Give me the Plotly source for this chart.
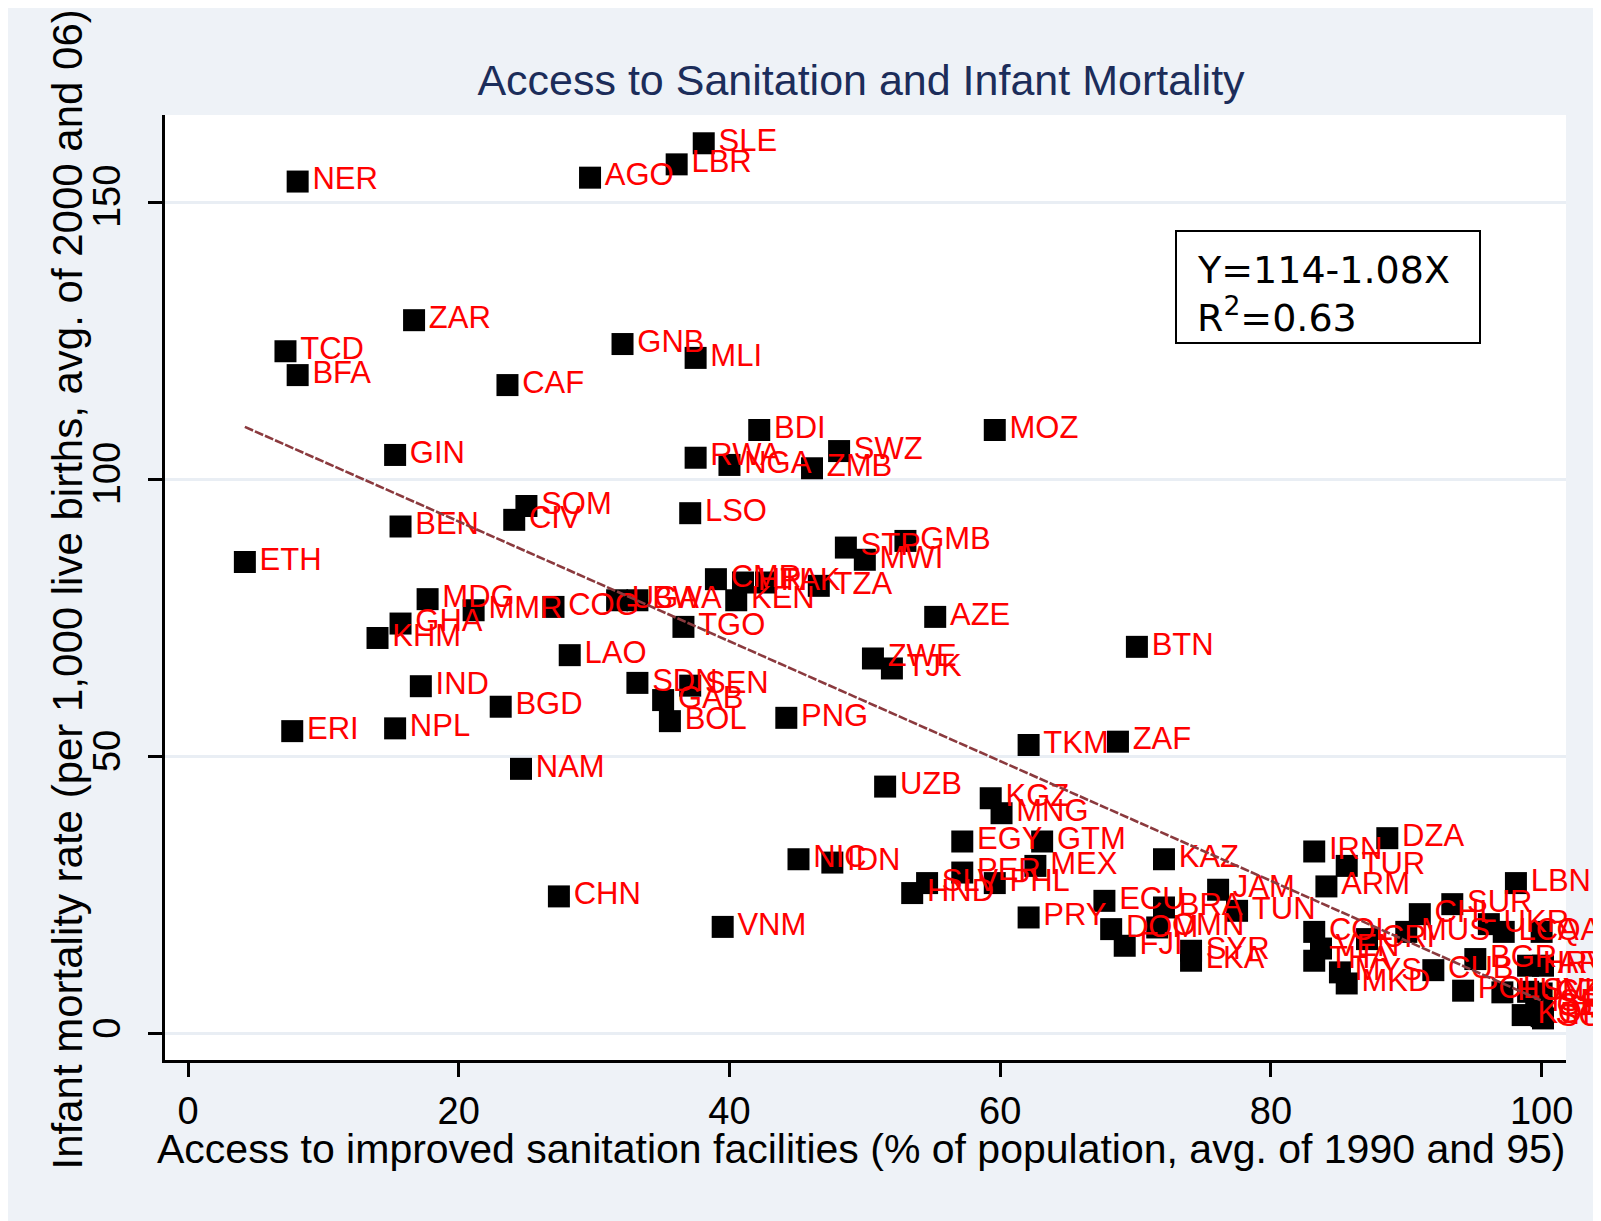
import plotly.graph_objects as go

# ---------------- data ----------------
codes = ["NER", "AGO", "LBR", "SLE", "ZAR", "TCD", "BFA", "GNB", "MLI", "CAF",
         "GIN", "BDI", "MOZ", "SWZ", "RWA", "NGA", "ZMB", "SOM", "CIV", "BEN",
         "ETH", "LSO", "STP", "GMB", "MWI", "MDG", "MMR", "GHA", "KHM", "COG",
         "UGA", "BWA", "CMR", "HTI", "PAK", "KEN", "TZA", "TGO", "LAO", "IND",
         "BGD", "ERI", "NPL", "NAM", "SDN", "SEN", "GAB", "BOL", "PNG", "AZE",
         "ZWE", "TJK", "BTN", "TKM", "ZAF", "UZB", "CHN", "VNM", "KGZ", "MNG",
         "EGY", "GTM", "MEX", "NIC", "IDN", "HND", "SLV", "PER", "PHL", "PRY",
         "ECU", "KAZ", "DOM", "FJI", "BRA", "OMN", "SYR", "LKA", "JAM", "TUN",
         "IRN", "TUR", "DZA", "ARM", "LBN", "COL", "VEN", "THA", "MYS", "MKD",
         "CRI", "MUS", "CHL", "SUR", "CUB", "POL", "BGR", "UKR", "LCA", "QAT",
         "HRV", "ARG", "HUN", "SVK", "CZE", "KOR", "SGP", "ISR", "GBR", "JPN"]

sanitation = [8.1, 29.7, 36.1, 38.1, 16.7, 7.2, 8.1, 32.1, 37.5, 23.6,
              15.3, 42.2, 59.6, 48.1, 37.5, 40.0, 46.1, 25.0, 24.1, 15.7,
              4.2, 37.1, 48.6, 53.0, 50.0, 17.7, 21.1, 15.7, 14.0, 27.0,
              31.7, 33.2, 39.0, 41.0, 42.7, 40.5, 46.6, 36.6, 28.2, 17.2,
              23.1, 7.7, 15.3, 24.6, 33.2, 37.1, 35.1, 35.6, 44.2, 55.2,
              50.6, 52.0, 70.1, 62.1, 68.7, 51.5, 27.4, 39.5, 59.3, 60.1,
              57.2, 63.1, 62.6, 45.1, 47.6, 53.5, 54.6, 57.2, 59.6, 62.1,
              67.7, 72.1, 68.2, 69.2, 72.1, 71.6, 74.1, 74.1, 76.1, 77.5,
              83.2, 85.6, 88.6, 84.1, 98.1, 83.2, 83.7, 83.2, 85.1, 85.6,
              87.1, 90.0, 91.0, 93.4, 92.0, 94.2, 95.1, 96.1, 97.2, 100.0,
              99.0, 100.1, 97.1, 99.0, 100.0, 98.6, 100.1, 99.6, 100.0, 100.0]

mortality = [153.7, 154.4, 156.8, 160.6, 128.7, 123.1, 118.8, 124.4, 121.9, 117.0,
             104.4, 108.9, 108.9, 105.1, 103.9, 102.6, 102.0, 95.2, 92.7, 91.5,
             85.1, 93.9, 87.7, 88.9, 85.5, 78.4, 76.4, 74.0, 71.4, 77.0,
             78.2, 78.2, 82.0, 81.4, 81.4, 78.2, 80.8, 73.4, 68.3, 62.7,
             59.0, 54.6, 55.1, 47.8, 63.3, 62.8, 60.2, 56.4, 57.0, 75.2,
             67.7, 65.9, 69.8, 52.1, 52.7, 44.6, 24.8, 19.3, 42.5, 39.8,
             34.7, 34.7, 30.3, 31.5, 30.9, 25.4, 27.2, 29.1, 27.2, 21.0,
             24.0, 31.5, 18.9, 15.9, 22.8, 19.2, 15.0, 13.2, 26.0, 22.2,
             32.9, 30.3, 35.3, 26.6, 27.2, 18.4, 15.4, 13.2, 11.1, 9.1,
             17.1, 18.4, 21.6, 23.4, 11.5, 7.8, 13.5, 19.8, 18.4, 18.4,
             12.3, 12.3, 7.5, 7.6, 7.3, 3.4, 2.8, 5.5, 4.8, 3.2]

fit_intercept = 114
fit_slope = -1.08
fit_r2 = 0.63
x_ticks = [0, 20, 40, 60, 80, 100]
y_ticks = [0, 50, 100, 150]

title_text = "Access to Sanitation and Infant Mortality"
x_title = "Access to improved sanitation facilities (% of population, avg. of 1990 and 95)"
y_title = "Infant mortality rate (per 1,000 live births, avg. of 2000 and 06)"

# ---------------- figure ----------------
W, H = 1593, 1213
ML, MR, MT, MB = 157, 35, 107, 161
PW, PH = W - ML - MR, H - MT - MB


def px2paper_x(px):
    return (px - ML) / PW


def px2paper_y(py):
    return (H - MB - py) / PH


BG = "#EEF2F7"
FONT = "Liberation Sans, Arial, sans-serif"

fig = go.Figure()

fit_x = [min(sanitation), max(sanitation)]
fit_y = [fit_intercept + fit_slope * v for v in fit_x]

fig.add_trace(go.Scatter(
    x=sanitation, y=mortality, mode="markers+text", text=codes,
    textposition="middle right",
    textfont=dict(family=FONT, size=31, color="#FF0000"),
    marker=dict(symbol="square", size=22, color="#000000", line=dict(width=0)),
    cliponaxis=False, showlegend=False, hoverinfo="text"))

fig.add_trace(go.Scatter(
    x=fit_x, y=fit_y, mode="lines",
    line=dict(color="#8B3A3E", width=2.6, dash="9px,2px"),
    showlegend=False, hoverinfo="skip"))

fig.update_layout(
    width=W, height=H,
    margin=dict(l=ML, r=MR, t=MT, b=MB, pad=0),
    paper_bgcolor=BG, plot_bgcolor="#FFFFFF",
    font=dict(family=FONT, color="#000000"),
    title=dict(text=title_text, x=(853) / W, xanchor="center",
               y=1 - 72 / H, yanchor="middle",
               font=dict(family=FONT, size=43, color="#1C2D5A")),
    xaxis=dict(range=[-1.7, 101.8], tickvals=x_ticks, ticks="outside", ticklen=14,
               tickwidth=3, tickcolor="#000000", showline=True, linewidth=3,
               linecolor="#000000", showgrid=False, zeroline=False,
               tickfont=dict(family=FONT, size=38, color="#000000"),
               ticklabelstandoff=1),
    yaxis=dict(range=[-4.7, 165.7], tickvals=y_ticks, ticks="outside", ticklen=14,
               tickwidth=3, tickcolor="#000000", showline=True, linewidth=3,
               linecolor="#000000", showgrid=True, gridcolor="#E9EEF4", gridwidth=3,
               zeroline=False, tickangle=-90,
               tickfont=dict(family=FONT, size=38, color="#000000"),
               ticklabelstandoff=13),
)

# axis titles
fig.add_annotation(text=x_title, xref="paper", yref="paper",
                   x=px2paper_x(853), y=px2paper_y(1141), xanchor="center", yanchor="middle",
                   showarrow=False, font=dict(family=FONT, size=41, color="#000000"))
fig.add_annotation(text=y_title, xref="paper", yref="paper", textangle=-90,
                   x=px2paper_x(58.5), y=px2paper_y(582), xanchor="center", yanchor="middle",
                   showarrow=False, font=dict(family=FONT, size=42, color="#000000"))

# equation box
fig.add_shape(type="rect", xref="paper", yref="paper",
              x0=px2paper_x(1168), x1=px2paper_x(1472),
              y0=px2paper_y(335), y1=px2paper_y(223),
              line=dict(color="#000000", width=2), fillcolor="#FFFFFF", layer="above")
fig.add_annotation(text="Y=%d%.2fX" % (fit_intercept, fit_slope), xref="paper", yref="paper",
                   x=px2paper_x(1187), y=px2paper_y(262), xanchor="left", yanchor="middle",
                   showarrow=False, font=dict(family="DejaVu Sans", size=38, color="#000000"))
fig.add_annotation(text="R<sup>2</sup>=%.2f" % fit_r2, xref="paper", yref="paper",
                   x=px2paper_x(1187), y=px2paper_y(307), xanchor="left", yanchor="middle",
                   showarrow=False, font=dict(family="DejaVu Sans", size=38, color="#000000"))

fig.write_html("out.html")
